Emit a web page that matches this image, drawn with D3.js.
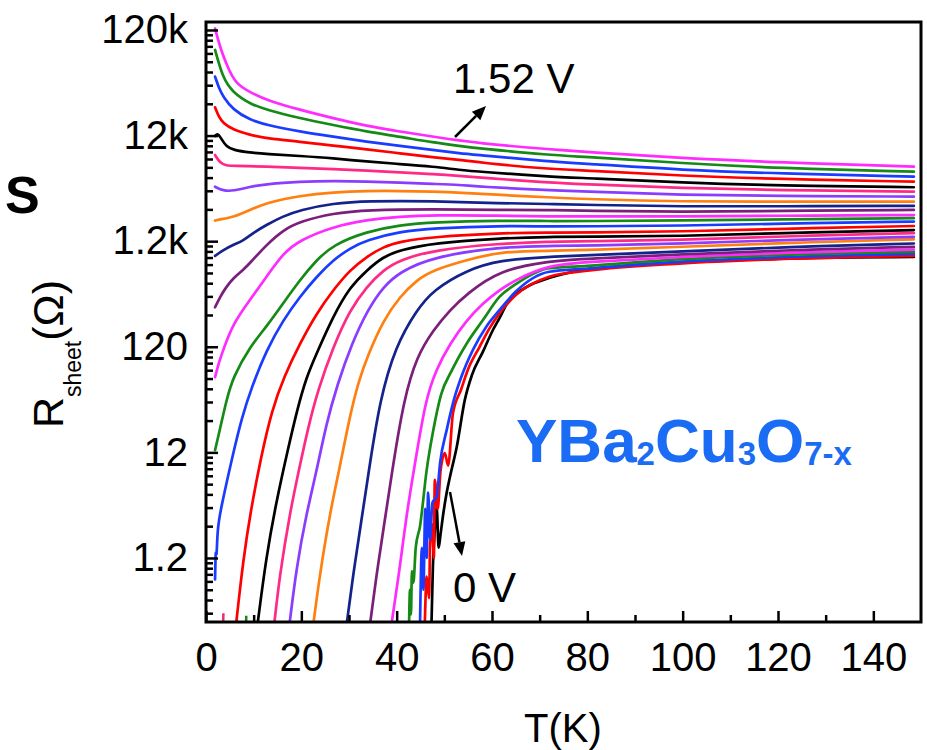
<!DOCTYPE html>
<html><head><meta charset="utf-8">
<script src="https://cdn.jsdelivr.net/npm/d3@7"></script>
<style>body{margin:0;background:#fff}svg{display:block}</style>
</head><body>
<svg id="chart" width="927" height="750"></svg>
<script>
// Sheet resistance R(T) curves, [T (K), R (ohm)], from 0 V (s00) up to 1.52 V (s24)
const s00 = [[47.3,0.28],[47.6,1.0],[48.0,2.2],[48.4,3.6],[48.8,1.5],[49.2,2.0],[49.8,3.2],[50.5,5],[51.2,7.1],[52.6,13.5],[54.3,37.7],[55.8,65],[58.1,108],[60.2,173],[61.6,225],[63,300],[67.2,440],[72.1,540],[79.1,640],[86,690],[100,760],[121,820],[148.5,850]];
const s01 = [[45.9,0.28],[46.3,0.8],[46.8,0.5],[47.0,1.5],[47.5,2.5],[47.8,1.2],[48.0,6.6],[48.6,3.5],[49.2,8],[50.1,11.8],[50.8,9],[51.8,28],[53.5,47],[54.9,72],[57.4,120],[59.5,180],[61.6,250],[65,370],[72,553],[80,630],[100,740],[120,810],[148.5,870]];
const s02 = [[44.9,0.28],[45.3,1.5],[45.6,0.6],[46.0,3.5],[46.3,1.2],[46.6,5.0],[47.0,1.8],[47.5,4.0],[48.4,4.6],[49.1,9.5],[50.5,19.6],[52.0,37.7],[53.5,61],[56.0,112],[58.8,186],[61.6,268],[65,400],[72,616],[80,660],[100,767],[120,842],[148.5,908]];
const s03 = [[42.6,0.28],[42.8,0.6],[43.0,0.35],[43.2,0.9],[43.5,0.7],[44.0,1.5],[44.9,2.4],[46.3,8.2],[47.7,19.6],[49.3,42],[51.6,72],[54.7,129],[58.1,215],[61.6,358],[65,470],[72,665],[80,700],[100,810],[120,885],[148.5,949]];
const s04 = [[38.9,0.28],[40.7,0.99],[42.1,3.2],[44.2,11.8],[46.1,37.7],[48.2,72],[51.2,129],[54.7,215],[58.1,310],[61.6,414],[65,520],[72,714],[80,760],[100,855],[120,930],[148.5,1000]];
const s05 = [[34.4,0.28],[35.8,0.85],[37.2,2.2],[39.3,9.5],[41.5,37.7],[44.2,97],[47.7,173],[51.2,268],[54.7,380],[61.6,640],[72,780],[80,820],[100,900],[120,980],[148.5,1060]];
const s06 = [[29.5,0.28],[30.9,0.85],[32.3,2.2],[34.4,9.5],[36.5,37.7],[39.7,120],[44.2,268],[47.7,414],[54.7,640],[61.6,796],[72,855],[80,880],[100,960],[120,1050],[148.5,1140]];
const s07 = [[22.5,0.28],[23.9,0.85],[26.0,3.2],[28.1,8.8],[30.2,27],[32.1,58],[33.8,96],[37.2,215],[40.7,358],[44.2,515],[47.7,640],[54.7,796],[61.6,955],[72,972],[80,990],[100,1060],[120,1150],[148.5,1250]];
const s08 = [[17.5,0.28],[19.0,0.99],[21.1,3.2],[23.1,7.6],[25.2,22],[27.5,52],[30.6,129],[33.9,268],[37.2,445],[40.7,616],[47.7,855],[61.6,1060],[72,1080],[80,1090],[100,1140],[120,1230],[148.5,1320]];
const s09 = [[14.3,0.28],[15.5,0.85],[17.6,3.2],[19.5,8.2],[21.4,20.4],[23.5,47],[26.7,120],[30.2,268],[33.7,445],[37.2,640],[40.7,796],[47.7,990],[61.6,1140],[72,1190],[80,1200],[100,1230],[120,1330],[148.5,1430]];
const s10 = [[10.8,0.28],[12.6,1.2],[14.7,4.0],[17.2,12.9],[19.1,30],[21.0,61],[23.3,106],[26.6,230],[30.2,443],[33.8,640],[37.1,850],[40.7,990],[47.8,1150],[61.6,1280],[72,1320],[80,1320],[100,1340],[120,1430],[148.5,1530]];
const s11 = [[6.3,0.28],[7.8,1.15],[9.4,3.4],[11.5,10.6],[13.8,30],[16.4,63],[19.7,129],[23.2,249],[26.7,414],[30.2,640],[33.7,855],[37.2,1060],[40.7,1190],[47.7,1320],[61.6,1430],[72,1450],[80,1450],[100,1480],[120,1570],[148.5,1670]];
const s12 = [[1.9,0.75],[2.05,1.6],[2.2,1.1],[2.4,2.2],[2.9,3.2],[5.7,11.8],[7.5,25.5],[9.6,50],[12.7,112],[16.2,215],[19.7,358],[23.2,553],[26.7,796],[30.2,1030],[33.7,1230],[40.7,1480],[47.7,1590],[61.6,1680],[72,1650],[80,1660],[100,1680],[120,1760],[148.5,1840]];
const s13 = [[1.9,12.6],[2.9,19.6],[4.3,37.7],[5.7,62.4],[9.2,120],[12.7,186],[16.2,310],[19.7,515],[23.2,796],[26.7,1110],[33.7,1480],[40.7,1710],[47.7,1810],[61.6,1880],[72,1860],[80,1860],[100,1880],[120,1930],[148.5,1980]];
const s14 = [[1.9,62],[2.7,85],[3.6,112],[5.7,200],[9.2,333],[12.7,553],[16.2,922],[19.7,1230],[26.7,1650],[33.7,1910],[40.7,2050],[47.7,2120],[61.6,2100],[72,2050],[80,2060],[100,2060],[120,2090],[148.5,2120]];
const s15 = [[1.9,284],[3,360],[4.3,445],[5.7,535],[7.8,640],[9.2,743],[12.7,1110],[16.2,1530],[19.7,1840],[26.7,2210],[33.7,2370],[47.7,2420],[61.6,2370],[72,2370],[80,2320],[100,2270],[120,2320],[148.5,2370]];
const s16 = [[1.9,870],[3.5,980],[5.7,1110],[7.8,1210],[10,1450],[12.7,1710],[16,2050],[19.7,2370],[26.7,2740],[33.7,2880],[47.7,2880],[61.6,2740],[72,2700],[80,2650],[100,2550],[120,2570],[148.5,2590]];
const s17 = [[1.9,1880],[3.5,1950],[5.7,2020],[9.2,2370],[12.7,2780],[19.7,3240],[26.7,3490],[33.7,3590],[40.7,3590],[47.7,3530],[53.3,3460],[61.6,3290],[72,3120],[80,3000],[100,2840],[120,2840],[148.5,2840]];
const s18 = [[1.9,3930],[3.6,3600],[5.7,3580],[9.2,3930],[12.7,4180],[19.7,4390],[26.7,4460],[33.7,4410],[40.7,4300],[47.7,4180],[53.3,4100],[57.4,3930],[72,3650],[80,3530],[100,3290],[120,3220],[148.5,3170]];
const s19 = [[1.9,7850],[3.0,6560],[4.3,6230],[5.7,6200],[12.7,6100],[19.7,5950],[26.7,5780],[33.7,5590],[40.7,5390],[47.7,5190],[53.3,4980],[57.4,4800],[72,4300],[80,4150],[100,3810],[120,3650],[148.5,3530]];
const s20 = [[1.9,11900],[2.5,12700],[3.3,11000],[4.3,9430],[5.7,8760],[9.2,8260],[12.7,8040],[19.7,7700],[26.7,7320],[33.7,6800],[40.7,6450],[47.7,6100],[53.3,5660],[57.4,5460],[72,4900],[80,4750],[100,4300],[120,4040],[148.5,3890]];
const s21 = [[1.9,22200],[2.7,18000],[3.6,15700],[5.7,13600],[9.2,12200],[12.7,11300],[19.7,10500],[26.7,9630],[33.7,8900],[40.7,8150],[47.7,7480],[53.3,7060],[57.4,6650],[72,5780],[80,5600],[100,4980],[120,4660],[148.5,4390]];
const s22 = [[1.9,43400],[2.7,34000],[3.6,28000],[5.7,21000],[9.2,16900],[12.7,15100],[19.7,13100],[26.7,11700],[33.7,10500],[40.7,9560],[47.7,8760],[53.3,8150],[57.4,7850],[72,6800],[80,6500],[100,5660],[120,5250],[148.5,4900]];
const s23 = [[1.9,77600],[2.7,58000],[3.6,43400],[4.6,36000],[5.7,31300],[7.5,27000],[9.2,24200],[12.7,21000],[19.7,17500],[26.7,15100],[33.7,13100],[40.7,11700],[47.7,10300],[53.3,9560],[57.4,9080],[72,7850],[80,7550],[100,6560],[120,5900],[148.5,5460]];
const s24 = [[1.9,124000],[2.6,95000],[3.4,72000],[4.8,50000],[6.1,39000],[7.5,34500],[9.2,31000],[12.7,26000],[19.7,21000],[26.7,17500],[33.7,14800],[40.7,13100],[47.7,11700],[57.4,10100],[72,8900],[80,8400],[100,7300],[120,6700],[148.5,6100]];
// small stray data fragments near the bottom axis
const fragPink = [[3.6,0.28],[3.65,0.36]];
const fragGreen = [[8.4,0.28],[8.45,0.34]];

const seriesList = [s00,s01,s02,s03,s04,s05,s06,s07,s08,s09,s10,s11,s12,s13,s14,s15,s16,s17,s18,s19,s20,s21,s22,s23,s24];
const noisySeries = 4; // first four voltages have noisy superconducting onset
const colorCycle = ["#000000","#ff0000","#1a3cff","#168a16","#ff2bff","#7a1f7a","#14228c","#ff8010","#8a3cff","#ff2a86"];

const xDomain = [0, 150];
const yDomain = [0.297, 142800];
const xMajorTicks = [0,20,40,60,80,100,120,140];
const xMinorTicks = [10,30,50,70,90,110,130];
const yMajorTicks = [1.2,12,120,1200,12000,120000];
const yTickLabels = ["1.2","12","120","1.2k","12k","120k"];
const yMinorMultipliers = [2,3,4,5,6,7,8,9];
const yDecadeBases = [0.12,1.2,12,120,1200,12000,120000];

const svg = d3.select("#chart");
const L = 206, R = 921, T = 22, B = 622;
const x = d3.scaleLinear().domain(xDomain).range([L, R]);
const y = d3.scaleLog().domain(yDomain).range([B, T]);

svg.append("rect").attr("width",927).attr("height",750).attr("fill","#fff");
svg.append("clipPath").attr("id","plotclip").append("rect")
  .attr("x",L).attr("y",T).attr("width",R-L).attr("height",B-T);

const lineSmooth = d3.line().x(d=>x(d[0])).y(d=>y(d[1])).curve(d3.curveBasis);
const lineNoisy = d3.line().x(d=>x(d[0])).y(d=>y(d[1])).curve(d3.curveMonotoneX);
const gLines = svg.append("g").attr("clip-path","url(#plotclip)");
seriesList.forEach((s,i)=>{
  gLines.append("path").attr("d", (i<noisySeries?lineNoisy:lineSmooth)(s)).attr("fill","none")
    .attr("stroke", colorCycle[i % colorCycle.length])
    .attr("stroke-width", 2.7).attr("stroke-linejoin","round").attr("stroke-linecap","round");
});
gLines.append("path").attr("d",lineNoisy(fragPink)).attr("stroke","#e8306a").attr("stroke-width",2.5).attr("fill","none");
gLines.append("path").attr("d",lineNoisy(fragGreen)).attr("stroke","#168a16").attr("stroke-width",2.5).attr("fill","none");

const font = "'Liberation Sans', Arial, Helvetica, sans-serif";

const yMinor = [];
yDecadeBases.forEach(v=>{
  yMinorMultipliers.forEach(m=>{ const t = v*m; if (t>yDomain[0] && t<yDomain[1]) yMinor.push(t); });
});

const yAxisMinor = d3.axisLeft(y).tickValues(yMinor).tickSize(-7).tickFormat("");
const yAxisMajor = d3.axisLeft(y).tickValues(yMajorTicks).tickSize(-12).tickPadding(18)
  .tickFormat((d,i)=>yTickLabels[i]);
const xAxisMinor = d3.axisBottom(x).tickValues(xMinorTicks).tickSize(-7).tickFormat("");
const xAxisMajor = d3.axisBottom(x).tickValues(xMajorTicks).tickSize(-11).tickPadding(21);

function styleAxis(g){
  g.select(".domain").remove();
  g.selectAll("line").attr("stroke","#000").attr("stroke-width",2.5);
  g.selectAll("text").style("font-family",font).style("font-size","40px").attr("fill","#000");
}
svg.append("g").attr("transform",`translate(${L},0)`).call(yAxisMinor).call(styleAxis);
svg.append("g").attr("transform",`translate(${L},0)`).call(yAxisMajor).call(styleAxis);
svg.append("g").attr("transform",`translate(0,${B})`).call(xAxisMinor).call(styleAxis);
svg.append("g").attr("transform",`translate(0,${B})`).call(xAxisMajor).call(styleAxis);

svg.append("rect").attr("x",L).attr("y",T).attr("width",R-L).attr("height",B-T)
  .attr("fill","none").attr("stroke","#000").attr("stroke-width",3);

svg.append("text").attr("x",563).attr("y",742).attr("text-anchor","middle")
  .style("font-family",font).style("font-size","40px").text("T(K)");
const yl = svg.append("text").attr("transform","translate(63,354) rotate(-90)")
  .attr("text-anchor","middle").style("font-family",font).style("font-size","43px");
yl.append("tspan").text("R");
yl.append("tspan").attr("dy",18).style("font-size","23px").text("sheet");
yl.append("tspan").attr("dy",-18).text("(\u03A9)");

svg.append("text").attr("x",5).attr("y",213).style("font-family",font)
  .style("font-size","52px").style("font-weight","bold").text("S");

svg.append("text").attr("x",453).attr("y",93).style("font-family",font).style("font-size","42px").text("1.52 V");
svg.append("text").attr("x",453).attr("y",602).style("font-family",font).style("font-size","42px").text("0 V");

function arrow(x1,y1,x2,y2){
  const a = Math.atan2(y2-y1,x2-x1), len=14, w=6;
  const bx = x2 - len*Math.cos(a), by = y2 - len*Math.sin(a);
  svg.append("line").attr("x1",x1).attr("y1",y1).attr("x2",bx).attr("y2",by)
    .attr("stroke","#000").attr("stroke-width",2.5);
  svg.append("path").attr("d",`M${x2},${y2}L${bx+w*Math.sin(a)},${by-w*Math.cos(a)}L${bx-w*Math.sin(a)},${by+w*Math.cos(a)}Z`).attr("fill","#000");
}
arrow(455,137,486,106);
arrow(450,492,462,556);

const yb = svg.append("text").attr("x",516).attr("y",462).style("font-family",font)
  .style("font-weight","bold").style("font-size","62px").attr("fill","#1a6cf5");
yb.append("tspan").text("YBa");
yb.append("tspan").attr("dy",3).style("font-size","33px").text("2");
yb.append("tspan").attr("dy",-3).text("Cu");
yb.append("tspan").attr("dy",3).style("font-size","33px").text("3");
yb.append("tspan").attr("dy",-3).text("O");
yb.append("tspan").attr("dy",3).style("font-size","33px").text("7-x");
</script>
</body></html>
